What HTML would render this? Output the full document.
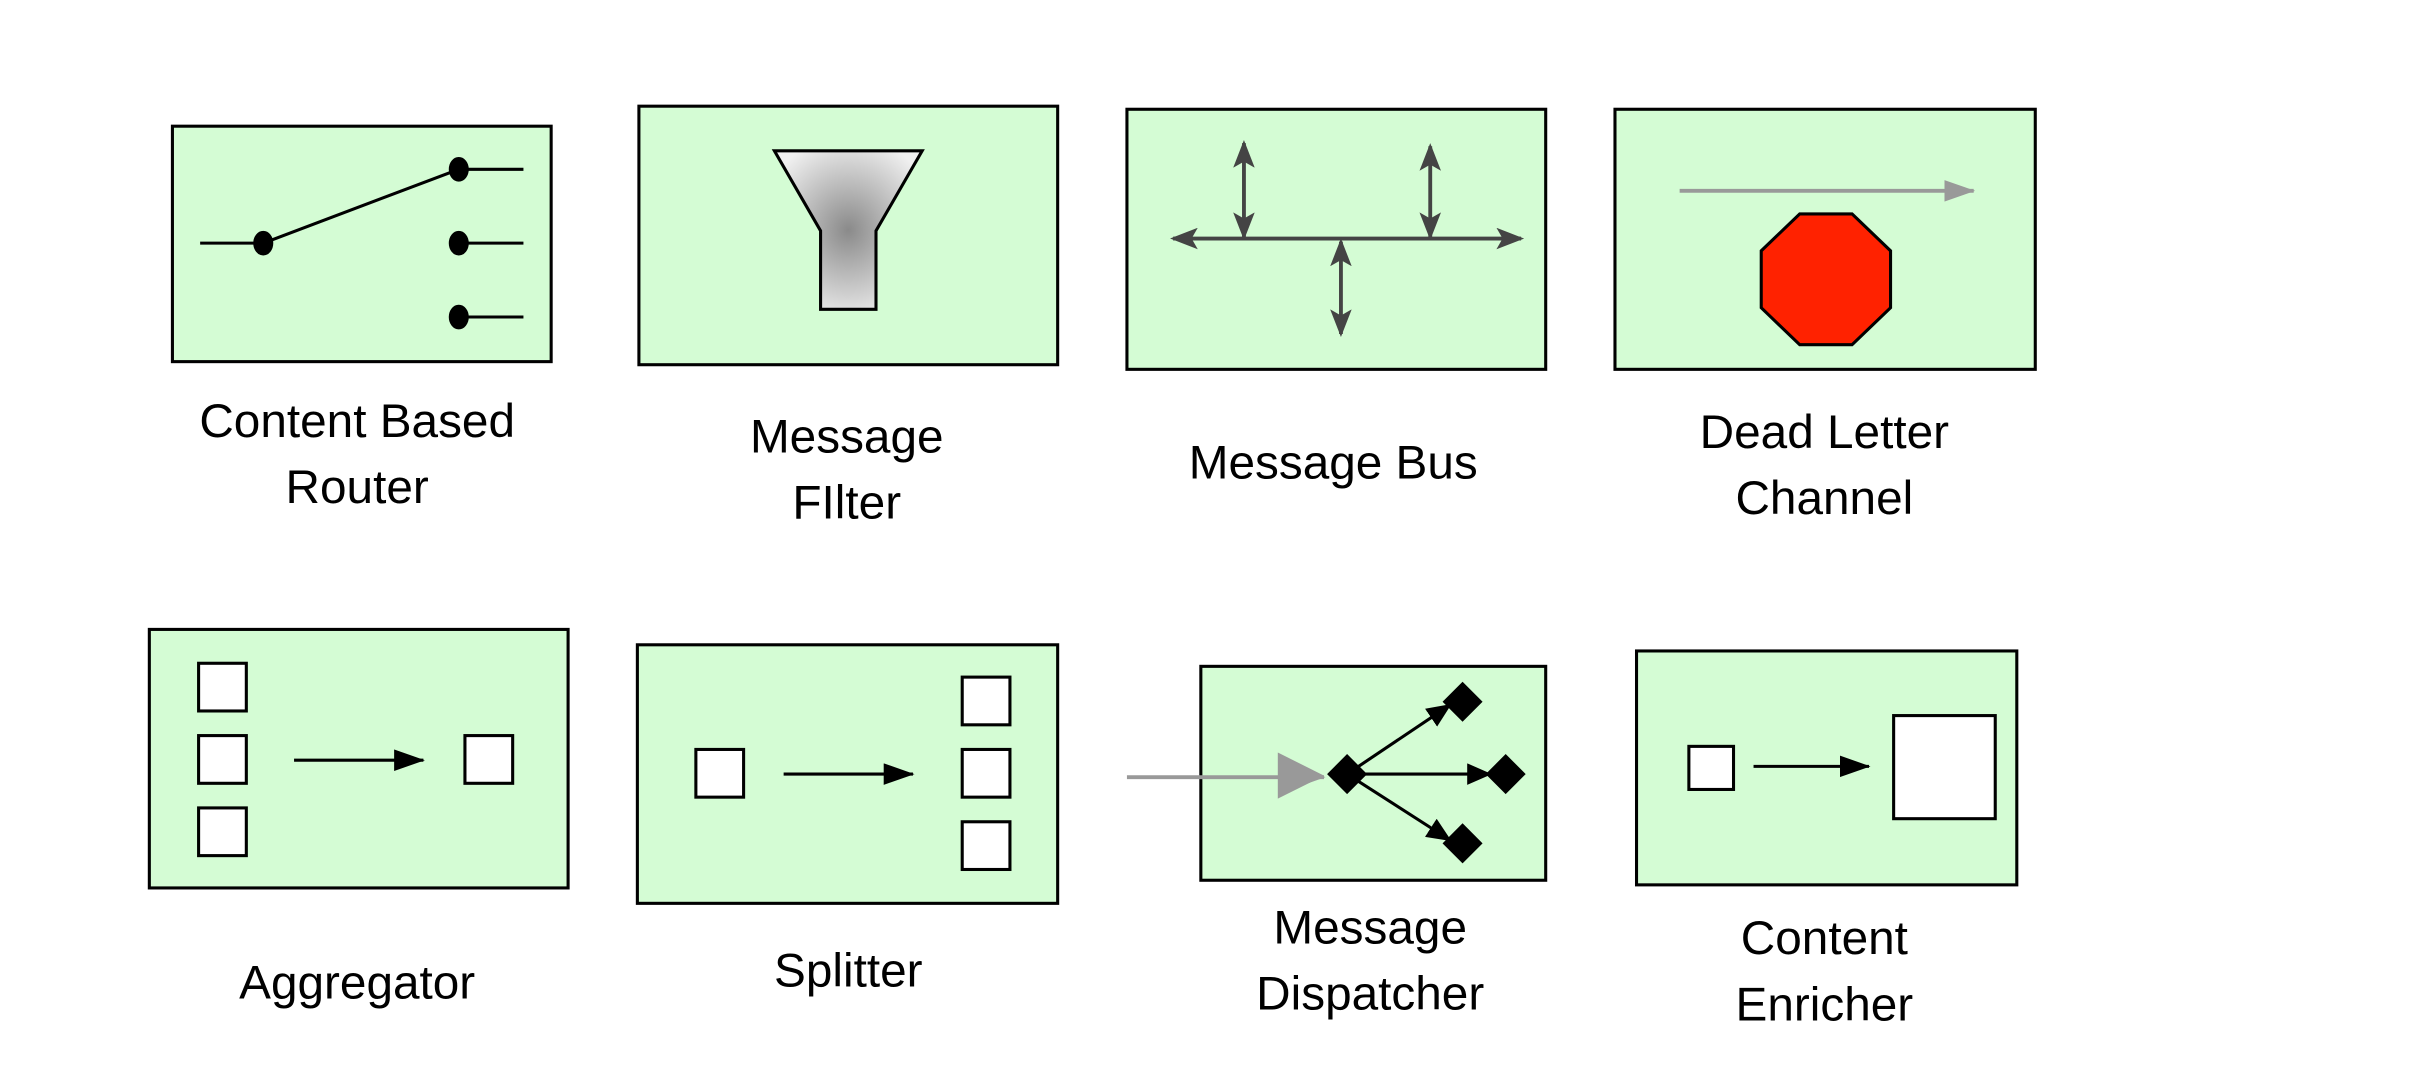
<!DOCTYPE html>
<html><head><style>html,body{margin:0;padding:0;background:#fff}svg{display:block}</style></head><body>
<svg width="2414" height="1088" viewBox="0 0 1568 707" preserveAspectRatio="none" xmlns="http://www.w3.org/2000/svg">
<defs>
<radialGradient id="g" cx="50%" cy="50%" r="60%"><stop offset="0" stop-color="#8a8a8a"/><stop offset="1" stop-color="#f0f0f0"/></radialGradient>
<marker id="ab" markerWidth="16" markerHeight="14" refX="15" refY="7" orient="auto" markerUnits="userSpaceOnUse"><path d="M0,0 L16,7 L0,14 z" fill="#000"/></marker>
<marker id="ab2" markerWidth="20" markerHeight="14" refX="19" refY="7" orient="auto" markerUnits="userSpaceOnUse"><path d="M0,0 L20,7 L0,14 z" fill="#000"/></marker>
<marker id="ad" markerWidth="18" markerHeight="14" refX="16" refY="7" orient="auto-start-reverse" markerUnits="userSpaceOnUse"><path d="M0,0 L18,7 L0,14 L4,7 z" fill="#444"/></marker>
<marker id="ag" markerWidth="20" markerHeight="14" refX="19" refY="7" orient="auto" markerUnits="userSpaceOnUse"><path d="M0,0 L20,7 L0,14 z" fill="#999"/></marker>
</defs>
<g fill="#d4fcd4" stroke="#000" stroke-width="2">
<rect x="112" y="82" width="246" height="153"/>
<rect x="415" y="69" width="272" height="168"/>
<rect x="732" y="71" width="272" height="169"/>
<rect x="1049" y="71" width="273" height="169"/>
<rect x="97" y="409" width="272" height="168"/>
<rect x="414" y="419" width="273" height="168"/>
<rect x="780" y="433" width="224" height="139"/>
<rect x="1063" y="423" width="247" height="152"/>
</g>
<g stroke="#000" stroke-width="2" fill="#000">
<line x1="130" y1="158" x2="171" y2="158"/><line x1="171" y1="158" x2="298" y2="110"/>
<line x1="298" y1="110" x2="340" y2="110"/><line x1="298" y1="158" x2="340" y2="158"/><line x1="298" y1="206" x2="340" y2="206"/>
<ellipse cx="171" cy="158" rx="5.5" ry="7"/><ellipse cx="298" cy="110" rx="5.5" ry="7"/><ellipse cx="298" cy="158" rx="5.5" ry="7"/><ellipse cx="298" cy="206" rx="5.5" ry="7"/>
</g>
<path d="M503,98 L599,98 L569,150 L569,201 L533,201 L533,150 Z" fill="url(#g)" stroke="#000" stroke-width="2"/>
<g stroke="#444" stroke-width="2.5">
<line x1="762" y1="155" x2="988" y2="155" marker-start="url(#ad)" marker-end="url(#ad)"/>
<line x1="808" y1="93" x2="808" y2="154" marker-start="url(#ad)" marker-end="url(#ad)"/>
<line x1="929" y1="95" x2="929" y2="154" marker-start="url(#ad)" marker-end="url(#ad)"/>
<line x1="871" y1="157" x2="871" y2="217" marker-start="url(#ad)" marker-end="url(#ad)"/>
</g>
<line x1="1091" y1="124" x2="1282" y2="124" stroke="#999" stroke-width="2.5" marker-end="url(#ag)"/>
<polygon points="1169,139 1203,139 1228,163 1228,200 1203,224 1169,224 1144,200 1144,163" fill="#ff2200" stroke="#000" stroke-width="2"/>
<g fill="#fff" stroke="#000" stroke-width="2">
<rect x="129" y="431" width="31" height="31"/><rect x="129" y="478" width="31" height="31"/><rect x="129" y="525" width="31" height="31"/><rect x="302" y="478" width="31" height="31"/>
<rect x="452" y="487" width="31" height="31"/><rect x="625" y="440" width="31" height="31"/><rect x="625" y="487" width="31" height="31"/><rect x="625" y="534" width="31" height="31"/>
<rect x="1097" y="485" width="29" height="28"/><rect x="1230" y="465" width="66" height="67"/>
</g>
<g stroke="#000" stroke-width="2">
<line x1="191" y1="494" x2="275" y2="494" marker-end="url(#ab2)"/>
<line x1="509" y1="503" x2="593" y2="503" marker-end="url(#ab2)"/>
<line x1="1139" y1="498" x2="1214" y2="498" marker-end="url(#ab2)"/>
</g>
<line x1="732" y1="505" x2="860" y2="505" stroke="#999" stroke-width="2.5" marker-end="url(#ag)"/>
<path d="M830,489 L860,504 L830,519 z" fill="#999"/>
<g stroke="#000" stroke-width="2">
<line x1="875" y1="503" x2="942" y2="458" marker-end="url(#ab)"/>
<line x1="875" y1="503" x2="968" y2="503" marker-end="url(#ab)"/>
<line x1="875" y1="503" x2="942" y2="546" marker-end="url(#ab)"/>
</g>
<g fill="#000">
<polygon points="875,490 888,503 875,516 862,503"/>
<polygon points="950,443 963,456 950,469 937,456"/>
<polygon points="978,490 991,503 978,516 965,503"/>
<polygon points="950,535 963,548 950,561 937,548"/>
</g>
<g font-family="Liberation Sans, sans-serif" font-size="31" fill="#000" text-anchor="middle">
<text x="232" y="284">Content Based</text><text x="232" y="327">Router</text>
<text x="550" y="294">Message</text><text x="550" y="337">FIlter</text>
<text x="866" y="311">Message Bus</text>
<text x="1185" y="291">Dead Letter</text><text x="1185" y="334">Channel</text>
<text x="232" y="649">Aggregator</text>
<text x="551" y="641">Splitter</text>
<text x="890" y="613">Message</text><text x="890" y="656">Dispatcher</text>
<text x="1185" y="620">Content</text><text x="1185" y="663">Enricher</text>
</g>
</svg>
</body></html>
